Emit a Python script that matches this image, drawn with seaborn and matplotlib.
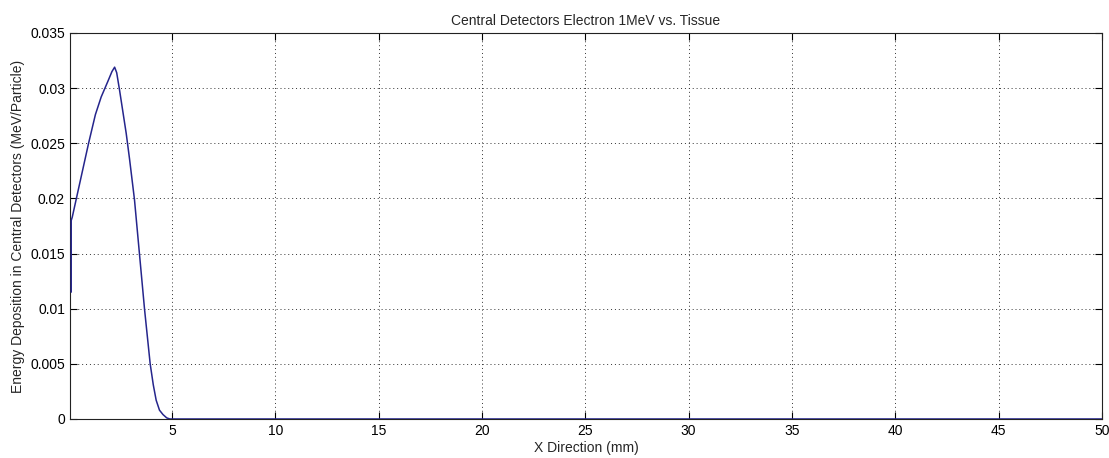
import numpy as np
import matplotlib
matplotlib.use("Agg")
import matplotlib.pyplot as plt
import seaborn as sns

# values
x_mm = [0.13, 0.13, 0.18, 0.38, 0.97, 1.3, 1.58, 1.9, 2.1, 2.23, 2.33, 2.47, 2.79, 2.95,
        3.19, 3.43, 3.68, 3.95, 4.1, 4.24, 4.4, 4.57, 4.75, 4.9, 10, 15, 20, 25, 30,
        35, 40, 45, 50]
energy = [0.0115, 0.0180, 0.0183, 0.0200, 0.0250, 0.0276, 0.0292, 0.0306, 0.0315, 0.0319,
          0.0314, 0.0298, 0.0259, 0.0236, 0.0199, 0.0150, 0.0099, 0.0050, 0.0031, 0.0017,
          0.0008, 0.0004, 0.0001, 0.0, 0.0, 0.0, 0.0, 0.0, 0.0, 0.0, 0.0, 0.0, 0.0]
x_ticks = [5, 10, 15, 20, 25, 30, 35, 40, 45, 50]
y_ticks = [0, 0.005, 0.01, 0.015, 0.02, 0.025, 0.03, 0.035]
y_labels = ["0", "0.005", "0.01", "0.015", "0.02", "0.025", "0.03", "0.035"]

sns.set_style("ticks")
plt.rcParams['font.family'] = ['Liberation Sans', 'DejaVu Sans']
plt.rcParams['xtick.direction'] = 'in'
plt.rcParams['ytick.direction'] = 'in'

fig = plt.figure(figsize=(11.09, 4.58), dpi=100)
ax = fig.add_axes([0.0631, 0.0852, 0.9306, 0.8428])

sns.lineplot(x=x_mm, y=energy, sort=False, estimator=None, color='#25258c',
             linewidth=1.1, ax=ax, zorder=5)

ax.set_xlim(0.07, 50)
ax.set_ylim(0, 0.035)
ax.set_xticks(x_ticks)
ax.set_yticks(y_ticks)
ax.set_yticklabels(y_labels)
ax.tick_params(top=True, right=True, labelsize=10, length=5, width=0.8, colors='black')
ax.grid(True, linestyle=(0, (1, 3)), color='#333333', linewidth=0.7)
for s in ax.spines.values():
    s.set_linewidth(0.8)
    s.set_color('#222222')

ax.set_title('Central Detectors Electron 1MeV vs. Tissue', fontsize=10, pad=6)
ax.set_xlabel('X Direction (mm)', fontsize=10, labelpad=2)
ax.set_ylabel('Energy Deposition in Central Detectors (MeV/Particle)', fontsize=10, labelpad=4)

fig.savefig('out.png', dpi=100, facecolor='white')
